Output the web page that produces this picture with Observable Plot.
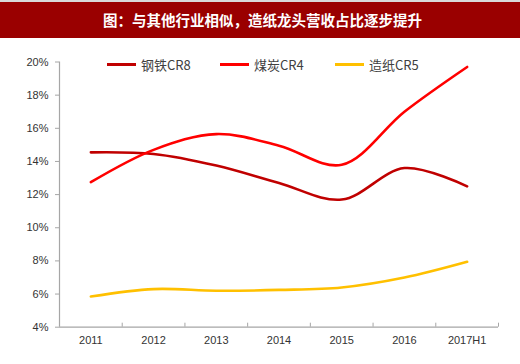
<!DOCTYPE html>
<html><head><meta charset="utf-8">
<script src="https://cdn.jsdelivr.net/npm/d3@7"></script>
<script src="https://cdn.jsdelivr.net/npm/@observablehq/plot@0.6"></script>
<style>
html,body{margin:0;padding:0;background:#fff;}
#wrap{position:relative;width:520px;height:364px;overflow:hidden;}
#title{box-sizing:border-box;height:38px;border-top:2px solid #d9d9d9;background:#9a0000;color:#fff;
 font:bold 14.5px "Noto Sans CJK SC",sans-serif;text-align:center;line-height:35px;padding-left:5px;}
#legend{position:absolute;top:55px;left:0;width:520px;height:18px;font:13px "Noto Sans CJK SC","Liberation Sans",sans-serif;color:#404040;}
.li{position:absolute;top:0;display:flex;align-items:center;height:18px;}
.sw{display:inline-block;width:29px;height:3px;margin-right:5px;}
svg{display:block;}
</style></head>
<body><div id="wrap"><div id="title">图：与其他行业相似，造纸龙头营收占比逐步提升</div><div id="chart"></div><div id="legend"></div></div>
<script>
const years = ["2011","2012","2013","2014","2015","2016","2017H1"];
const steel = [14.55, 14.45, 13.75, 12.7, 11.7, 13.6, 12.5];
const coal  = [12.75, 14.7, 15.65, 14.95, 13.8, 17.0, 19.7];
const paper = [5.85, 6.3, 6.2, 6.25, 6.4, 7.0, 7.95];
const seriesNames = ["钢铁CR8","煤炭CR4","造纸CR5"];
const seriesColors = ["#c00000","#ff0000","#ffc000"];
const yTicks = [4,6,8,10,12,14,16,18,20];

const idx = years.map((_, i) => i);
const rows = [];
[steel, coal, paper].forEach((vals, s) => vals.forEach((v, i) => rows.push({s: seriesNames[s], i, v})));
const boundaries = years.slice(0, -1).map((_, i) => i + 0.5).concat([6.5]);

const axisColor = "#a6a6a6";
const chart = Plot.plot({
  width: 520, height: 326,
  marginTop: 23.5, marginBottom: 37.3, marginLeft: 59, marginRight: 22,
  style: {fontFamily: "'Liberation Sans', Arial, sans-serif", fontSize: "11px", color: "#333", background: "#fff"},
  x: {type: "linear", domain: [-0.5, 6.5]},
  y: {domain: [4, 20]},
  color: {domain: seriesNames, range: seriesColors},
  marks: [
    Plot.axisY({ticks: yTicks, tickFormat: d => d + "%", tickSize: 4, stroke: axisColor, tickPadding: 7, label: null, fill: "#333"}),
    Plot.axisX({ticks: idx, tickFormat: i => years[i], tickSize: 0, tickPadding: 9, label: null, fill: "#333"}),
    Plot.axisX({ticks: boundaries, tickFormat: () => "", tickSize: -4, stroke: axisColor, label: null}),
    Plot.ruleX([-0.5], {stroke: axisColor, strokeWidth: 1.2}),
    Plot.ruleY([4], {stroke: axisColor, strokeWidth: 1.2}),
    Plot.line(rows, {x: "i", y: "v", z: "s", stroke: "s", strokeWidth: 2.6, curve: "catmull-rom"})
  ]
});
document.getElementById("chart").appendChild(chart);

const legend = document.getElementById("legend");
const lx = [107, 220, 335];
seriesNames.forEach((n, k) => {
  const d = document.createElement("div");
  d.className = "li";
  d.style.left = lx[k] + "px";
  d.innerHTML = `<span class="sw" style="background:${seriesColors[k]}"></span><span>${n}</span>`;
  legend.appendChild(d);
});
</script></body></html>
